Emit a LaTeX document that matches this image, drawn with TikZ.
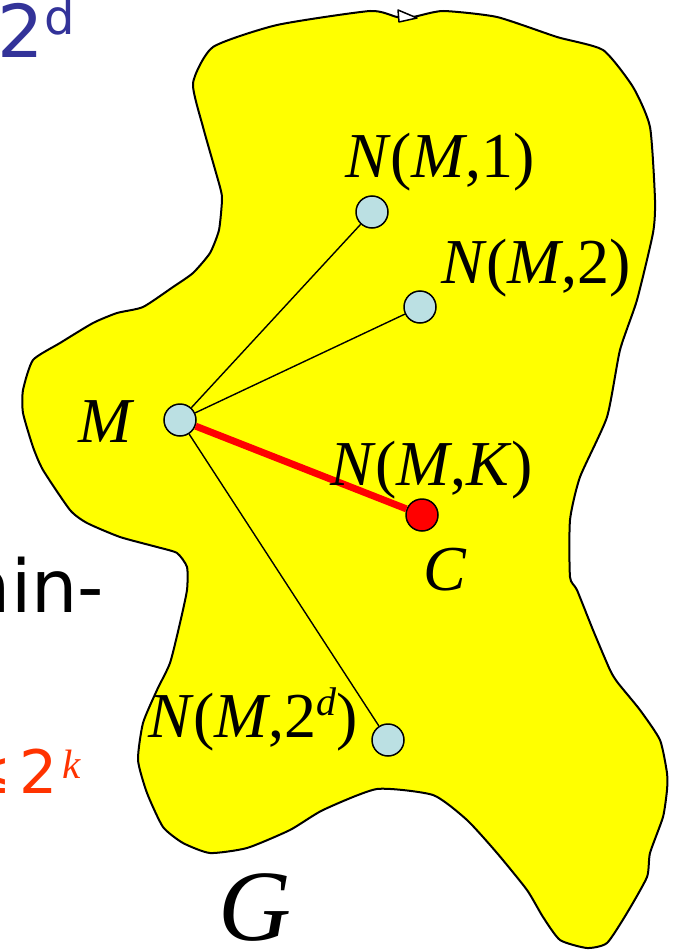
\documentclass[tikz,border=0pt]{standalone}
\usepackage{fontspec}
\setmainfont{Liberation Serif}
\newfontfamily\dejavu{DejaVu Sans}
\definecolor{nodeblue}{RGB}{187,224,227}
\definecolor{titleblue}{RGB}{51,51,153}
\definecolor{leqred}{RGB}{255,51,0}
\definecolor{blobyellow}{RGB}{255,255,0}
\definecolor{pured}{RGB}{255,0,0}
\newcommand\mysupd[1]{\raisebox{22pt}{\fontsize{40}{44}\selectfont\textit{#1}}}
\tikzset{
  vert/.style={circle, draw=black, line width=1.5pt, fill=nodeblue, minimum size=32pt, inner sep=0pt},
  lab/.style={inner sep=0pt, outer sep=0pt, font=\fontsize{64}{70}\selectfont, anchor=base west},
  thinedge/.style={draw=black, line width=1.4pt},
  redge/.style={draw=pured, line width=7pt},
  sidetext/.style={inner sep=0pt, outer sep=0pt},
}
\begin{document}
\begin{tikzpicture}[x=1pt,y=-1pt]
\useasboundingbox (0,0) rectangle (677,950);
\fill[white] (0,0) rectangle (677,950);
% blob G
\draw[fill=blobyellow, line width=2pt, line join=round]
  plot[smooth cycle, tension=0.35] coordinates {
  (193,83) (203,127) (220,187) (222,200) (219,230) (210,253) (193,273) (173,287)
  (143,307) (117,313) (93,323) (60,343) (33,360) (23,390) (23,413) (33,447)
  (43,470) (70,510) (87,523) (120,537) (157,547) (177,553) (187,567) (187,590)
  (180,623) (170,663) (157,690) (143,723) (138,760) (147,793) (163,827) (183,843)
  (210,853) (247,848) (290,830) (323,810) (377,789) (433,795) (467,820) (497,853)
  (527,890) (543,917) (560,940) (587,948) (607,943) (627,913) (647,877) (650,853)
  (663,817) (667,790) (667,773) (660,740) (640,710) (618,683) (610,670) (593,630)
  (577,590) (570,577) (570,520) (580,477) (607,417) (620,350) (637,300) (653,233)
  (655,200) (650,127) (633,87) (603,50) (557,37) (497,17) (443,11) (413,17)
  (397,17) (370,11) (277,25) (213,47)};
\draw[fill=white, line width=1.5pt, line join=round] (398,10) -- (399,22) -- (417,18) -- cycle;
% vertices
\node[vert] (m) at (180,420) {};
\node[vert] (n1) at (372,212) {};
\node[vert] (n2) at (420,307) {};
\node[vert, fill=pured] (c) at (422,515) {};
\node[vert] (nd) at (388,740) {};
% edges
\draw[thinedge] (m) -- (n1);
\draw[thinedge] (m) -- (n2);
\draw[thinedge] (m) -- (nd);
\draw[redge] (m) -- (c);
% labels
\node[lab] (l1) at (345,177) {\textit{N}(\textit{M},1)};
\node[lab] (l2) at (441,283) {\textit{N}(\textit{M},2)};
\node[lab] (lm) at (78,442) {\textit{M}};
\node[lab] (lk) at (330,485) {\textit{N}(\textit{M},\textit{K})};
\node[lab] (lc) at (423,590) {\textit{C}};
\node[lab] (ld) at (148,737) {\textit{N}(\textit{M},2\mysupd{d})};
\node[lab, font=\fontsize{101}{110}\selectfont] (lg) at (218,940) {\textit{G}};
% side texts
\node[sidetext, anchor=base west, text=titleblue, font=\dejavu\fontsize{73}{80}\selectfont] (t2) at (-2,58) {2};
\node[sidetext, anchor=base west, text=titleblue, font=\dejavu\fontsize{48}{52}\selectfont] (td) at (44,35) {d};
\node[sidetext, anchor=base east, text=black, font=\dejavu\fontsize{73}{80}\selectfont] (tmin) at (104,612) {min-};
\node[sidetext, anchor=base east, text=leqred, font=\dejavu\fontsize{60}{66}\selectfont] (tleq) at (58,793) {≤\hspace{8pt}2};
\node[sidetext, anchor=base west, text=leqred, font=\fontsize{41}{45}\selectfont] (tk) at (62,778) {\textit{k}};
\end{tikzpicture}
\end{document}
